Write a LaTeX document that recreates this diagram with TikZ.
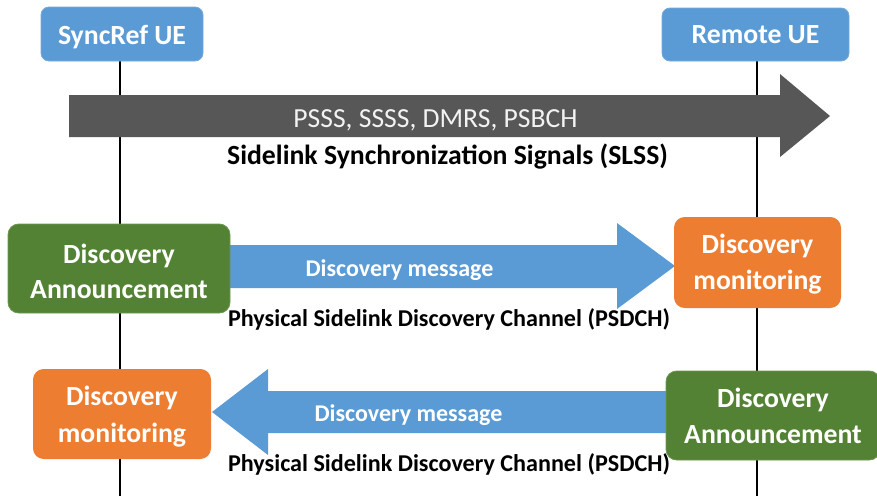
\documentclass[tikz,border=0pt]{standalone}
\usepackage{fontspec}
\setmainfont{Carlito}
\definecolor{ueblue}{HTML}{5B9BD5}
\definecolor{annGreen}{HTML}{548235}
\definecolor{monOrange}{HTML}{ED7D31}
\definecolor{slssGray}{HTML}{575757}
\definecolor{lightText}{HTML}{F2F2F2}
\begin{document}
\begin{tikzpicture}[x=0.75pt,y=-0.75pt,
  uebox/.style={fill=ueblue,rounded corners=6pt,draw=ueblue!85!white,line width=0.6pt},
  annbox/.style={fill=annGreen,rounded corners=8pt,draw=annGreen!85!white,line width=0.6pt},
  monbox/.style={fill=monOrange,rounded corners=8pt},
  boxtext/.style={text=white,font=\bfseries\fontsize{20.8}{24}\selectfont,anchor=base,inner sep=0pt},
  msgtext/.style={text=white,font=\bfseries\fontsize{18}{21}\selectfont,anchor=base,inner sep=0pt},
  captext/.style={text=black,font=\bfseries\fontsize{18.1}{21}\selectfont,anchor=base,inner sep=0pt},
  lifeline/.style={black,line width=1.4pt},
  blockarrow/.style={fill=ueblue}]
\useasboundingbox (0,0) rectangle (877,496);

% lifelines
\coordinate (lTop) at (120,61);
\coordinate (lBot) at (120,496);
\coordinate (rTop) at (757,61);
\coordinate (rBot) at (757,496);
\draw[lifeline] (lTop) -- (lBot);
\draw[lifeline] (rTop) -- (rBot);

% UE headers
\path[uebox] (41,7) rectangle (203,61);
\node[boxtext] (sync) at (122,44) {SyncRef UE};
\path[uebox] (662,8) rectangle (849,61);
\node[boxtext] (remote) at (755.5,43) {Remote UE};

% SLSS broadcast arrow
\fill[slssGray] (69,95) -- (780,95) -- (780,74) -- (830,116) -- (780,157) -- (780,137) -- (69,137) -- cycle;
\node[text=lightText,font=\fontsize{20.7}{24}\selectfont,anchor=base,inner sep=0pt] (sig) at (435.5,127) {PSSS, SSSS, DMRS, PSBCH};
\node[captext,font=\bfseries\fontsize{20.8}{24}\selectfont] (slss) at (447.5,164) {Sidelink Synchronization Signals (SLSS)};

% discovery: SyncRef UE announces
\path[blockarrow] (229,245) -- (617,245) -- (617,223) -- (675,266) -- (617,309) -- (617,288) -- (229,288) -- cycle;
\path[annbox] (8,224) rectangle (230,313);
\node[boxtext] (ann1a) at (119,263) {Discovery};
\node[boxtext] (ann1b) at (119,298) {Announcement};
\path[monbox] (674,217) rectangle (841,308);
\node[boxtext] (mon1a) at (757.5,253) {Discovery};
\node[boxtext] (mon1b) at (757.5,289) {monitoring};
\node[msgtext] (msg1) at (399.5,276) {Discovery message};
\node[captext] (ch1) at (449,326) {Physical Sidelink Discovery Channel (PSDCH)};

% discovery: Remote UE announces
\path[blockarrow] (667,391) -- (268,391) -- (268,369) -- (212,412) -- (268,455) -- (268,433) -- (667,433) -- cycle;
\path[monbox] (33,369) rectangle (211,459);
\node[boxtext] (mon2a) at (122,405) {Discovery};
\node[boxtext] (mon2b) at (122,442) {monitoring};
\path[annbox] (666,371) rectangle (880,460);
\node[boxtext] (ann2a) at (773,407) {Discovery};
\node[boxtext] (ann2b) at (773,443) {Announcement};
\node[msgtext] (msg2) at (408.5,421) {Discovery message};
\node[captext] (ch2) at (449,471) {Physical Sidelink Discovery Channel (PSDCH)};
\end{tikzpicture}
\end{document}
